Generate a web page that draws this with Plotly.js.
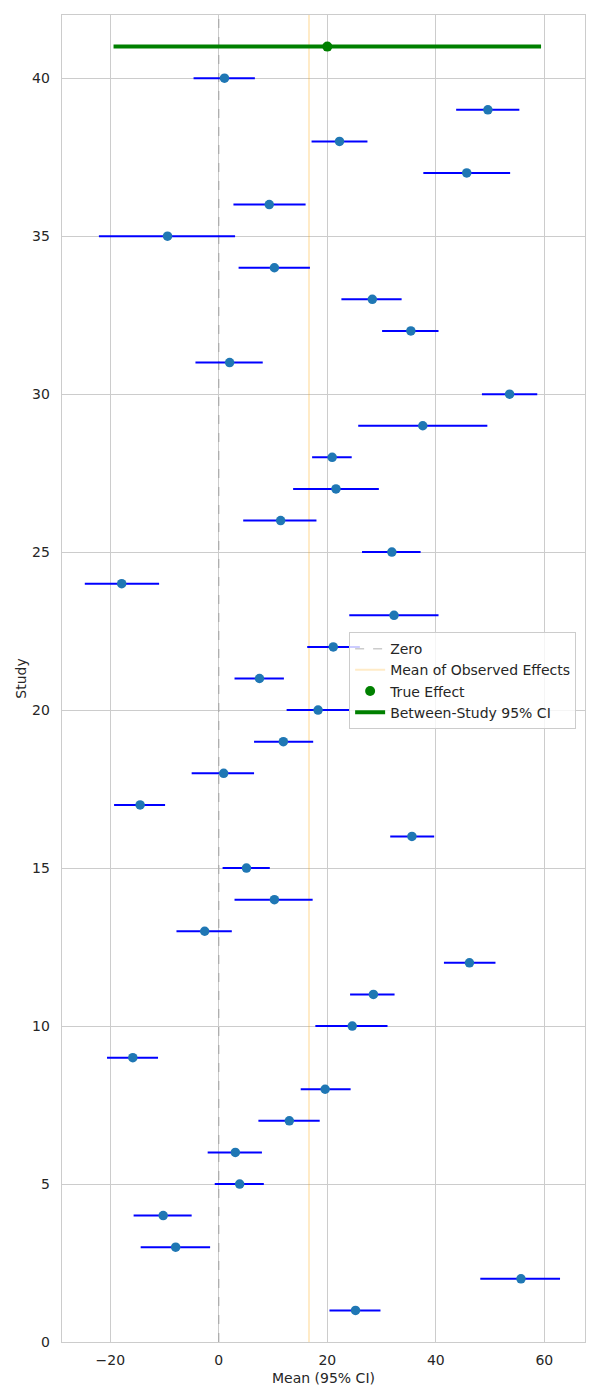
<!DOCTYPE html>
<html>
<head>
<meta charset="utf-8">
<script src="https://cdn.plot.ly/plotly-3.0.1.min.js"></script>
<style>
  html, body { margin: 0; padding: 0; background: #fff; }
  #chart { width: 600px; height: 1400px; }
</style>
</head>
<body>
<div id="chart"></div>
<script>
// Study index (1..40)
const studies = [
  1, 2, 3, 4, 5, 6, 7, 8, 9, 10,
  11, 12, 13, 14, 15, 16, 17, 18, 19, 20,
  21, 22, 23, 24, 25, 26, 27, 28, 29, 30,
  31, 32, 33, 34, 35, 36, 37, 38, 39, 40
];

// Observed mean effect per study
const means = [
  25.2, 55.7, -7.95, -10.25, 3.85, 3.05, 13.0, 19.6, -15.85, 24.6,
  28.5, 46.2, -2.6, 10.25, 5.1, 35.6, -14.5, 0.9, 11.9, 18.3,
  7.5, 21.1, 32.3, -17.9, 31.9, 11.4, 21.6, 20.9, 37.6, 53.6,
  2.0, 35.4, 28.3, 10.25, -9.45, 9.3, 45.7, 22.25, 49.6, 1.05
];

// Lower bound of each study's 95% CI
const ciLow = [
  20.4, 48.2, -14.4, -15.7, -0.75, -2.05, 7.3, 15.1, -20.6, 17.8,
  24.2, 41.5, -7.8, 2.9, 0.7, 31.6, -19.3, -5.0, 6.5, 12.5,
  2.9, 16.3, 24.05, -24.7, 26.4, 4.5, 13.7, 17.2, 25.7, 48.5,
  -4.3, 30.1, 22.6, 3.65, -22.1, 2.7, 37.7, 17.1, 43.75, -4.65
];

// Upper bound of each study's 95% CI
const ciHigh = [
  29.8, 62.9, -1.6, -5.0, 8.3, 7.95, 18.6, 24.3, -11.2, 31.1,
  32.4, 51.0, 2.4, 17.3, 9.4, 39.7, -9.9, 6.5, 17.4, 24.1,
  12.0, 26.0, 40.5, -11.0, 37.2, 18.0, 29.5, 24.5, 49.5, 58.7,
  8.1, 40.5, 33.7, 16.8, 3.0, 16.0, 53.7, 27.4, 55.4, 6.65
];

// Pooled (true) effect and its between-study 95% interval
const trueEffect = 20.0;
const trueEffectRow = 41;
const betweenCI = [-19.4, 59.4];

const xTicks = [-20, 0, 20, 40, 60];
const yTicks = [0, 5, 10, 15, 20, 25, 30, 35, 40];

const yRange = [0, 42];
const meanObserved = means.reduce((a, b) => a + b, 0) / means.length;

const FONT = 'DejaVu Sans, sans-serif';
const TEXT = '#262626';
const FS = 14;

const traces = [
  {
    name: 'Zero',
    x: [0, 0], y: yRange,
    mode: 'lines',
    line: { color: 'rgba(128,128,128,0.4)', width: 1.5, dash: 'dash' },
    hoverinfo: 'skip'
  },
  {
    name: 'Mean of Observed Effects',
    x: [meanObserved, meanObserved], y: yRange,
    mode: 'lines',
    line: { color: 'rgba(255,165,0,0.22)', width: 2 },
    hoverinfo: 'skip'
  },
  {
    name: 'Between-Study 95% CI',
    x: betweenCI, y: [trueEffectRow, trueEffectRow],
    mode: 'lines',
    line: { color: '#008000', width: 4 },
    showlegend: false
  },
  {
    name: 'True Effect',
    x: [trueEffect], y: [trueEffectRow],
    mode: 'markers',
    marker: { color: '#008000', size: 10 }
  },
  {
    name: 'Between-Study 95% CI',
    x: [null], y: [null],
    mode: 'lines',
    line: { color: '#008000', width: 4 }
  },
  {
    name: 'Studies',
    x: means, y: studies,
    mode: 'markers',
    marker: { color: '#1f77b4', size: 9.5 },
    error_x: {
      type: 'data', symmetric: false,
      array: ciHigh.map((h, i) => h - means[i]),
      arrayminus: means.map((m, i) => m - ciLow[i]),
      color: '#0000ff', thickness: 2, width: 0
    },
    showlegend: false
  }
];

const layout = {
  width: 600, height: 1400,
  margin: { l: 62, r: 15, t: 15, b: 58 },
  paper_bgcolor: '#ffffff',
  plot_bgcolor: '#ffffff',
  font: { family: FONT, size: FS, color: TEXT },
  showlegend: true,
  legend: {
    x: 0.549, y: 0.535, xanchor: 'left', yanchor: 'top',
    bgcolor: 'rgba(255,255,255,0.8)',
    bordercolor: '#cccccc', borderwidth: 1,
    font: { family: FONT, size: FS, color: TEXT },
    tracegroupgap: 0
  },
  xaxis: {
    range: [-28.9, 67.5],
    tickvals: xTicks,
    showgrid: true, gridcolor: '#cccccc', gridwidth: 1,
    zeroline: false,
    showline: true, mirror: true, linecolor: '#cccccc', linewidth: 1.25,
    ticks: 'outside', ticklen: 5, tickcolor: 'rgba(0,0,0,0)',
    tickfont: { family: FONT, size: FS, color: TEXT },
    title: { text: 'Mean (95% CI)', font: { family: FONT, size: FS, color: TEXT }, standoff: 6 }
  },
  yaxis: {
    range: yRange,
    tickvals: yTicks,
    showgrid: true, gridcolor: '#cccccc', gridwidth: 1,
    zeroline: false,
    showline: true, mirror: true, linecolor: '#cccccc', linewidth: 1.25,
    ticks: 'outside', ticklen: 8, tickcolor: 'rgba(0,0,0,0)',
    tickfont: { family: FONT, size: FS, color: TEXT },
    title: { text: 'Study', font: { family: FONT, size: FS, color: TEXT }, standoff: 2 }
  }
};

Plotly.newPlot('chart', traces, layout, { displayModeBar: false, staticPlot: true });
</script>
</body>
</html>
